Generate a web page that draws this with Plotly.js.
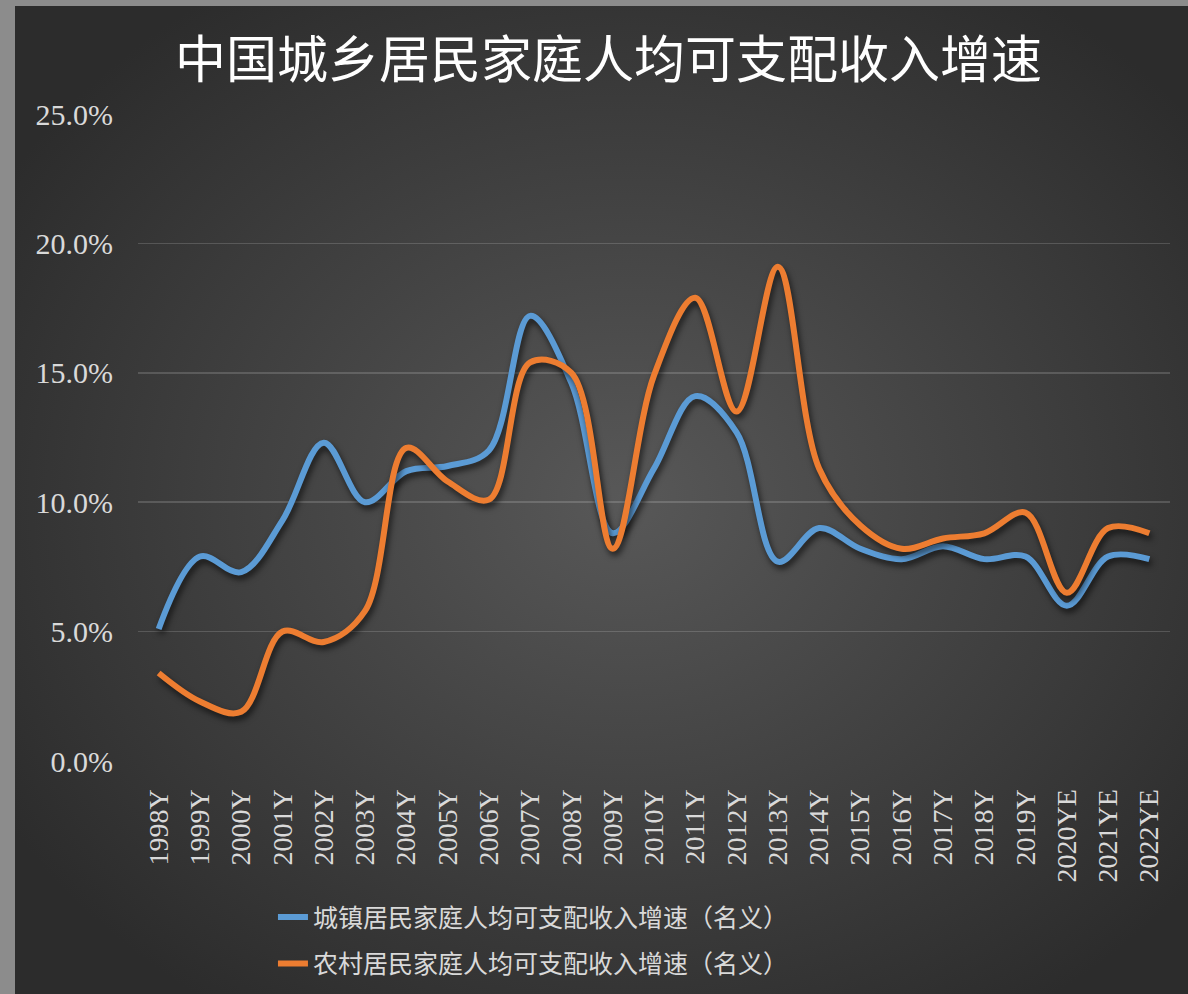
<!DOCTYPE html>
<html>
<head>
<meta charset="utf-8">
<script src="https://cdn.plot.ly/plotly-3.0.1.min.js"></script>
<style>
  html, body { margin: 0; padding: 0; background: #8c8c8c; width: 1188px; height: 994px; overflow: hidden; }
  #wrap { position: absolute; left: 15px; top: 6px; width: 1173px; height: 988px;
    background: radial-gradient(ellipse 62% 62% at 52% 50%, #585858 0%, #444444 45%, #2c2c2c 100%); }
  #chart { width: 1173px; height: 988px; }
  .scatterlayer .js-line { filter: drop-shadow(2px 4px 3px rgba(0,0,0,0.65)); }
</style>
</head>
<body>
<div id="wrap"><div id="chart"></div></div>
<script>
const categories = ['1998Y','1999Y','2000Y','2001Y','2002Y','2003Y','2004Y','2005Y','2006Y','2007Y','2008Y','2009Y','2010Y','2011Y','2012Y','2013Y','2014Y','2015Y','2016Y','2017Y','2018Y','2019Y','2020YE','2021YE','2022YE'];
const urban = [5.1,7.9,7.3,9.3,12.3,10.0,11.2,11.4,12.0,17.2,14.6,8.8,11.3,14.1,12.7,7.7,9.0,8.2,7.8,8.3,7.8,7.9,6.0,7.9,7.8];
const rural = [3.4,2.3,1.9,5.0,4.6,5.8,12.1,10.8,10.1,15.4,15.0,8.2,14.9,17.9,13.5,19.1,11.3,9.1,8.2,8.6,8.8,9.6,6.5,9.0,8.8];
const urbanName = '城镇居民家庭人均可支配收入增速（名义）';
const ruralName = '农村居民家庭人均可支配收入增速（名义）';
const titleText = '中国城乡居民家庭人均可支配收入增速';
const yTicks = [0,5,10,15,20,25];
const yTickLabels = ['0.0%','5.0%','10.0%','15.0%','20.0%','25.0%'];

const serif = '"Liberation Serif", "DejaVu Serif", serif';
const cjk = '"Noto Sans CJK SC", "Noto Sans", sans-serif';

const traces = [
  {x: categories, y: urban, name: urbanName, type: 'scatter', mode: 'lines', legendgroup: 'a',
   line: {color: '#5B9BD5', width: 6, shape: 'spline', smoothing: 1}},
  {x: categories, y: rural, name: ruralName, type: 'scatter', mode: 'lines', legendgroup: 'b',
   line: {color: '#ED7D31', width: 6, shape: 'spline', smoothing: 1}}
];

const layout = {
  width: 1173, height: 988,
  paper_bgcolor: 'rgba(0,0,0,0)', plot_bgcolor: 'rgba(0,0,0,0)',
  margin: {l: 123, r: 18, t: 108, b: 233, autoexpand: false},
  title: {text: titleText, x: 0.506, xref: 'container', y: 0.945, yref: 'container', yanchor: 'middle', xanchor: 'center',
          font: {family: cjk, size: 51, color: '#ffffff'}},
  showlegend: true,
  legend: {xref: 'container', yref: 'container', x: 0.442, xanchor: 'center', y: 0.101, yanchor: 'top', orientation: 'v',
           traceorder: 'grouped', tracegroupgap: 11,
           font: {family: cjk, size: 25, color: '#d9d9d9'}, bgcolor: 'rgba(0,0,0,0)'},
  xaxis: {type: 'category', range: [-0.5, categories.length - 0.5],
          showgrid: false, zeroline: false, showline: false,
          tickangle: -90, ticks: 'outside', ticklen: 16, tickcolor: 'rgba(0,0,0,0)',
          tickfont: {family: serif, size: 28, color: '#d9d9d9'}},
  yaxis: {range: [0, 25], tickmode: 'array', tickvals: yTicks, ticktext: yTickLabels,
          showgrid: true, gridcolor: 'rgba(255,255,255,0.16)', gridwidth: 1.5,
          zeroline: false, showline: false,
          ticks: 'outside', ticklen: 18, tickcolor: 'rgba(0,0,0,0)',
          tickfont: {family: serif, size: 30, color: '#d9d9d9'}}
};

Plotly.newPlot('chart', traces, layout, {staticPlot: true, displayModeBar: false});
</script>
</body>
</html>
